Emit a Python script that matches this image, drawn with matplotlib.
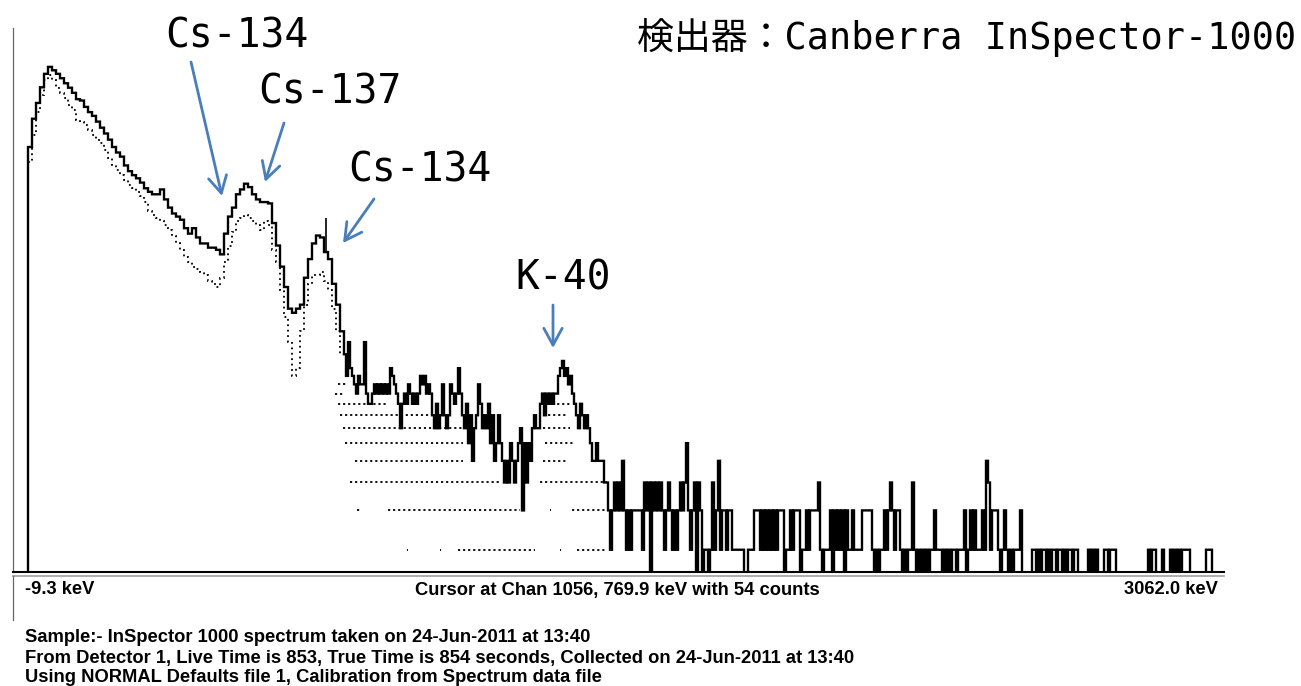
import numpy as np
import matplotlib
matplotlib.use("Agg")
import matplotlib.pyplot as plt
from matplotlib.lines import Line2D

# --- display calibration: 1200 screen columns from -9.3 keV to 3062.0 keV ---
E_LO, E_HI = -9.3, 3062.0
N_COLS = 1200
kev_per_col = (E_HI - E_LO) / N_COLS


def col_kev(col):
    return E_LO + np.asarray(col) * kev_per_col


# counts, 4 columns per value (low-energy continuum + Cs peaks)
front_counts = [127, 170, 200, 235, 270, 290, 280, 270, 258, 245,
                234, 222, 208, 205, 192, 182, 175, 165, 155, 146,
                137, 127, 120, 115, 105, 99, 95, 92, 88, 83,
                80, 78, 78, 82, 74, 68, 64, 62, 60, 55,
                52, 55, 50, 47, 47, 45, 45, 44, 42, 52,
                62, 68, 78, 82, 87, 84, 78, 74, 72, 72,
                71, 58, 46, 37, 30, 24, 23, 24, 25, 33,
                40, 47, 51, 50, 43, 40, 31, 25, 19]

# lower edge of the per-channel dot cloud, same columns
front_dots = [109, 143, 182, 217, 254, 266, 254, 234, 222, 211,
              196, 186, 168, 165, 159, 152, 144, 137, 133, 123,
              113, 105, 100, 95, 90, 86, 83, 80, 77, 72,
              66, 63, 61, 59, 57, 54, 51, 47, 44, 41,
              39, 37, 36, 35, 34, 32, 31, 30, 33, 39,
              46, 53, 59, 61, 63, 61, 59, 57, 54, 59,
              57, 44, 39, 29, 22, 17, 12, 13, 19, 25,
              31, 34, 34, 35, 32, 29, 24, 19, 15]

# counts, 2 columns per value (up to and over the K-40 peak)
mid_counts = [15, 12, 17, 13, 12, 11, 10, 12, 11, 11,
              17, 10, 9, 9, 10, 11, 10, 11, 10, 11,
              10, 11, 10, 13, 12, 11, 10, 9, 7, 9,
              10, 9, 11, 10, 9, 10, 9, 10, 12, 11,
              12, 10, 11, 10, 8, 7, 9, 7, 8, 11,
              8, 7, 8, 11, 10, 9, 10, 13, 10, 8,
              7, 9, 6, 8, 5, 7, 8, 11, 9, 7,
              8, 7, 9, 6, 8, 5, 6, 8, 6, 5,
              4, 5, 4, 6, 5, 4, 5, 6, 7, 3,
              6, 4, 6, 5, 7, 8, 7, 7, 9, 10,
              8, 10, 9, 10, 9, 10, 10, 12, 13, 14,
              12, 13, 11, 12, 10, 9, 8, 7, 9, 8,
              7, 8, 7]

# high-energy tail, 2 columns per digit
tail_a = ("6556555443" "2343435323" "2333332434" "1434343234"
          "3232343463" "2341431221" "2423523323" "3222222112"
          "2233323232" "3232333122" "3233312232" "3333421222"
          "3132323132" "2322223333" "3212122323" "4323321212")
tail_b = ("2421212121" "2232221212" "1221222312" "3232223254"
          "2333212321" "2122231111" "1221212212" "1221221212"
          "2122111112" "1212111221" "2221111111" "1111111112"
          "1221112111" "2121212222" "1111111122" "2111111")

# single-channel spike on the Cs-134 peak
spike_kev = [762.9]
spike_counts = [61]

# dotted rows of individual channels under the trace
dot_levels = [11, 10, 9, 9, 8, 8, 7, 7, 6, 6, 5, 5, 4, 4,
              3, 3, 3, 3, 2, 2, 2, 2, 2]
dot_start_kev = [795, 787, 794, 1329, 800, 1319, 807, 1319, 812, 1324, 838, 1319,
                 825, 1311, 843, 922, 1337, 1393, 971, 1055, 1101, 1363, 1406]
dot_end_kev = [820, 812, 922, 1388, 1030, 1383, 1114, 1388, 1114, 1396, 1114, 1380,
               1209, 1483, 856, 1260, 1340, 1483, 974, 1058, 1299, 1366, 1478]

peak_labels = ["Cs-134", "Cs-137", "Cs-134", "K-40"]
status_lines = [
    "Sample:- InSpector 1000 spectrum taken on 24-Jun-2011 at 13:40",
    "From Detector 1, Live Time is 853, True Time is 854 seconds, Collected on 24-Jun-2011 at 13:40",
    "Using NORMAL Defaults file 1, Calibration from Spectrum data file",
]

# --- assemble the step trace ---
tail_counts = [int(ch) for ch in tail_a + tail_b]
front_edges = col_kev(4 + 4 * np.arange(len(front_counts) + 1))
mid_edges = col_kev(320 + 2 * np.arange(len(mid_counts) + 1))
tail_edges = col_kev(566 + 2 * np.arange(len(tail_counts) + 1))
edges = np.concatenate([front_edges, mid_edges[1:], tail_edges[1:]])
counts = np.concatenate([front_counts, mid_counts, tail_counts]).astype(float)

W, H = 1301, 686
fig = plt.figure(figsize=(W / 100, H / 100), dpi=100)
fig.patch.set_facecolor("white")

ax = fig.add_axes([13 / W, 1 - 572 / H, 1211 / W, 544 / H])
ax.set_yscale("log")
ax.set_xlim(col_kev(-11), E_HI)
ax.set_ylim(1.59, 433)
ax.tick_params(which="both", left=False, bottom=False, labelleft=False, labelbottom=False)
ax.spines["top"].set_visible(False)
ax.spines["right"].set_visible(False)
ax.spines["left"].set_color("#666666")
ax.spines["left"].set_linewidth(0.9)
ax.spines["bottom"].set_color("black")
ax.spines["bottom"].set_linewidth(1.5)

# channel dots
ax.stairs(front_dots, front_edges, baseline=None, color="black", lw=1.3,
          linestyle=(0, (1, 2)))
ax.hlines(dot_levels, dot_start_kev, dot_end_kev, colors="black", lw=1.3,
          linestyles=[(0, (1.2, 1.6))])

# main trace
ax.stairs(counts, edges, baseline=1, color="black", lw=1.7)
spike_base = counts[np.searchsorted(edges, spike_kev) - 1]
ax.vlines(spike_kev, spike_base, spike_counts, color="black", lw=1.2)

# frame below the spectrum
fig.add_artist(Line2D([13 / W, 1224 / W], [1 - 576 / H] * 2, color="#a0a0a0", lw=1.2))
fig.add_artist(Line2D([13 / W] * 2, [1 - 576 / H, 1 - 620 / H], color="#666666", lw=0.9))

# peak labels and arrows (figure pixel positions)
BLUE = "#4a7ebb"
label_font = dict(family="DejaVu Sans Mono", fontsize=28.5, color="black")
label_pos = [(165, 47), (258, 103), (348, 181), (515, 289)]
for text, (px, py) in zip(peak_labels, label_pos):
    ax.annotate(text, xy=(px, H - py), xycoords="figure pixels",
                ha="left", va="baseline", annotation_clip=False, **label_font)

arrows = [((191, 62), (222, 196)), ((284, 123), (265, 182)),
          ((374, 199), (343, 243)), ((553, 305), (553, 348))]
for (tx, ty), (hx, hy) in arrows:
    ax.annotate("", xy=(hx, H - hy), xytext=(tx, H - ty),
                xycoords="figure pixels", textcoords="figure pixels",
                annotation_clip=False,
                arrowprops=dict(arrowstyle="->,head_length=0.55,head_width=0.3",
                                color=BLUE, lw=2.0, shrinkA=0, shrinkB=0,
                                mutation_scale=22))

fig.text(637 / W, 1 - 49 / H, "検出器：Canberra InSpector-1000",
         family=["DejaVu Sans Mono", "Noto Sans CJK JP"], fontsize=26.6,
         ha="left", va="baseline")

# status bar text
status_font = dict(family="Liberation Sans", fontweight="bold",
                   fontsize=13.2, va="center")
fig.text(25 / W, 1 - 590 / H, "-9.3 keV", ha="left", **status_font)
fig.text(617.5 / W, 1 - 590 / H, "Cursor at Chan 1056, 769.9 keV with 54 counts",
         ha="center", **status_font)
fig.text(1218 / W, 1 - 590 / H, "3062.0 keV", ha="right", **status_font)
for line, py in zip(status_lines, [637, 659, 678]):
    fig.text(25 / W, 1 - py / H, line, ha="left", **status_font)

fig.savefig("out.png", dpi=100)
